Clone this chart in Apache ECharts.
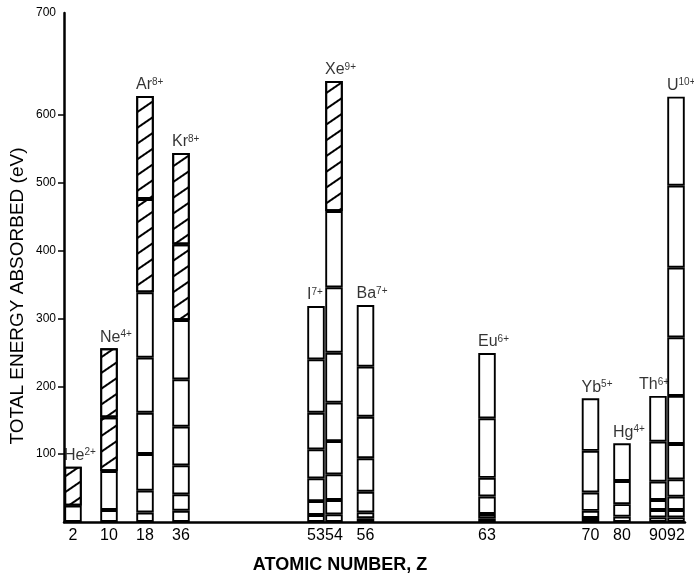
<!DOCTYPE html>
<html><head><meta charset="utf-8">
<script src="https://cdn.jsdelivr.net/npm/echarts@6/dist/echarts.min.js"></script>
<style>html,body{margin:0;padding:0;background:#fff}#c{width:694px;height:575px}</style>
</head><body><div id="c"></div>
<script>
// ---- data ----
const elements = ['He','Ne','Ar','Kr','I','Xe','Ba','Eu','Yb','Hg','Th','U'];
const charges = ['2+','4+','8+','8+','7+','9+','7+','6+','5+','4+','6+','10+'];
const atomicNumbers = ['2','10','18','36','53','54','56','63','70','80','90','92'];
// successive ionization energies absorbed (eV), stacked bottom to top
const segHe = [24, 57.5];
const segNe = [17.7, 57.4, 79.2, 101.7];
const segAr = [14, 32.1, 54.1, 60.8, 81.1, 96.3, 137.5, 151.8];
const segKr = [16.6, 24.2, 42.7, 56.9, 69.9, 87.3, 111.6, 134.5];
const segI  = [10.3, 20.6, 33.5, 42.7, 53.9, 78.7, 78.6];
const segXe = [11.3, 21.1, 37.9, 49, 56.5, 73.6, 96.4, 112.4, 191.6];
const segBa = [5.5, 8.8, 30.3, 49.3, 61.2, 73.7, 90.9];
const segEu = [5.5, 6.3, 25.8, 27.5, 87.7, 96.2];
const segYb = [5.9, 10.6, 27, 61.4, 77.4];
const segHg = [8, 18.2, 34.2, 55.6];
const segTh = [6.9, 10.8, 14.7, 27, 58.9, 67.4];
const segU  = [6.9, 10.8, 19.6, 25.6, 52, 70.8, 86.4, 102.6, 120.8, 131.2];
// how many of the top segments are hatched
const hatchedTop = [1, 2, 2, 2, 0, 1, 0, 0, 0, 0, 0, 0];
const yTickValues = [100, 200, 300, 400, 500, 600];
const yTopLabel = '700';

// ---- layout (slot grid along the x axis) ----
const SLOT_COUNT = 139;
const slotOf = [2, 10, 18, 26, 56, 60, 67, 94, 117, 124, 132, 136];
const segments = [segHe, segNe, segAr, segKr, segI, segXe, segBa, segEu, segYb, segHg, segTh, segU];
const Y_MAX = 750;

const categories = new Array(SLOT_COUNT).fill('');
slotOf.forEach((s, i) => { categories[s] = atomicNumbers[i]; });

const FONT = "'Liberation Sans', Arial, sans-serif";
const hatch = {
  symbol: 'rect', symbolSize: 1, color: '#000',
  dashArrayX: [1, 0], dashArrayY: [1.4, 10.4], rotation: -0.6
};

const maxSeg = Math.max(...segments.map(s => s.length));
const series = [];
for (let k = 0; k < maxSeg; k++) {
  const data = new Array(SLOT_COUNT).fill('-');
  segments.forEach((segs, i) => {
    if (k < segs.length) {
      const hatched = k >= segs.length - hatchedTop[i];
      data[slotOf[i]] = hatched ? { value: segs[k], itemStyle: { decal: hatch } } : segs[k];
    }
  });
  series.push({
    type: 'bar', stack: 'total', barWidth: 17.5, data,
    itemStyle: { color: '#fff', borderColor: '#000', borderWidth: 1.9 },
    emphasis: { disabled: true }, silent: true
  });
}
// element labels on top of each bar
series.push({
  type: 'scatter', symbolSize: 0, silent: true, z: 5,
  data: segments.map((segs, i) => ({
    value: [slotOf[i], segs.reduce((a, b) => a + b, 0)],
    label: {
      show: true, position: 'top', distance: 3, align: 'left',
      offset: [elements[i] === 'Th' ? -19 : -9, 0],
      formatter: '{n|' + elements[i] + '}{s|' + charges[i] + '}',
      rich: {
        n: { fontSize: 16, fontFamily: FONT, color: '#000', verticalAlign: 'bottom' },
        s: { fontSize: 10, fontFamily: FONT, color: '#000', verticalAlign: 'top' }
      }
    }
  }))
});

const chart = echarts.init(document.getElementById('c'), null, { renderer: 'canvas' });
chart.setOption({
  animation: false,
  backgroundColor: '#fff',
  grid: { left: 64, right: 9, top: 13, bottom: 53, containLabel: false },
  xAxis: {
    type: 'category', data: categories, boundaryGap: false,
    axisLine: { lineStyle: { color: '#000', width: 2.5 } },
    axisTick: { show: false },
    axisLabel: { interval: 0, color: '#000', fontSize: 16, fontFamily: FONT, margin: 6 },
    splitLine: { show: false }
  },
  yAxis: {
    type: 'value', min: 0, max: Y_MAX, interval: 50,
    axisLine: { show: true, lineStyle: { color: '#000', width: 2.5 } },
    axisTick: { show: true, customValues: yTickValues, length: 6, lineStyle: { color: '#000', width: 1.5 } },
    axisLabel: {
      customValues: yTickValues.concat([Y_MAX]),
      formatter: v => (v === Y_MAX ? yTopLabel : String(v)),
      color: '#000', fontSize: 12, fontFamily: FONT, margin: 8
    },
    splitLine: { show: false }
  },
  graphic: [
    { type: 'text', x: 340, y: 565, silent: true,
      style: { text: 'ATOMIC NUMBER, Z', textAlign: 'center', textVerticalAlign: 'middle',
        font: 'bold 18px ' + FONT, fill: '#000' } },
    { type: 'text', x: 18, y: 296, rotation: Math.PI / 2, silent: true,
      style: { text: 'TOTAL ENERGY ABSORBED (eV)', textAlign: 'center', textVerticalAlign: 'middle',
        font: '19px ' + FONT, fill: '#000' } }
  ],
  series
});
</script></body></html>
